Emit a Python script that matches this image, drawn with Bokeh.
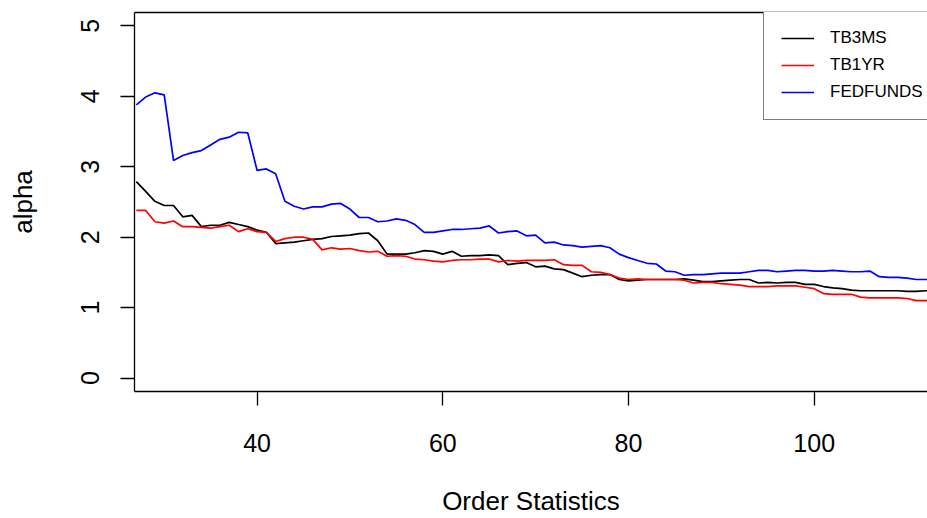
from bokeh.plotting import figure
from bokeh.models import (Range1d, LinearAxis, FixedTicker, Legend, LegendItem,
                          ColumnDataSource)
from bokeh.embed import file_html
from bokeh.resources import INLINE

# ---- data ----
order_stat = list(range(27, 114))

tb3ms = [2.79, 2.65, 2.51, 2.45, 2.45, 2.29, 2.31, 2.15, 2.17, 2.17,
         2.21, 2.18, 2.15, 2.10, 2.07, 1.91, 1.92, 1.93, 1.95, 1.97,
         1.98, 2.01, 2.02, 2.03, 2.05, 2.06, 1.95, 1.76, 1.76, 1.76,
         1.78, 1.81, 1.80, 1.76, 1.80, 1.73, 1.74, 1.74, 1.75, 1.74,
         1.61, 1.63, 1.64, 1.58, 1.59, 1.55, 1.54, 1.49, 1.44, 1.46,
         1.47, 1.47, 1.40, 1.38, 1.39, 1.40, 1.40, 1.40, 1.40, 1.41,
         1.39, 1.37, 1.37, 1.38, 1.39, 1.40, 1.40, 1.35, 1.36, 1.35,
         1.36, 1.36, 1.33, 1.33, 1.30, 1.28, 1.27, 1.25, 1.24, 1.24,
         1.24, 1.24, 1.24, 1.23, 1.23, 1.24, 1.24]

tb1yr = [2.38, 2.38, 2.22, 2.20, 2.23, 2.15, 2.15, 2.14, 2.13, 2.15,
         2.17, 2.08, 2.12, 2.08, 2.07, 1.94, 1.98, 2.00, 2.00, 1.97,
         1.82, 1.85, 1.83, 1.84, 1.81, 1.79, 1.80, 1.73, 1.74, 1.73,
         1.69, 1.68, 1.66, 1.65, 1.67, 1.68, 1.68, 1.69, 1.69, 1.65,
         1.67, 1.66, 1.67, 1.67, 1.67, 1.68, 1.61, 1.60, 1.60, 1.51,
         1.50, 1.47, 1.42, 1.40, 1.41, 1.40, 1.40, 1.40, 1.40, 1.39,
         1.35, 1.36, 1.36, 1.34, 1.33, 1.32, 1.30, 1.30, 1.30, 1.31,
         1.31, 1.31, 1.29, 1.27, 1.20, 1.19, 1.19, 1.19, 1.15, 1.14,
         1.14, 1.14, 1.14, 1.13, 1.10, 1.10, 1.10]

fedfunds = [3.88, 3.99, 4.05, 4.02, 3.09, 3.16, 3.20, 3.23, 3.31, 3.39,
            3.42, 3.49, 3.48, 2.95, 2.97, 2.90, 2.51, 2.44, 2.40, 2.43,
            2.43, 2.47, 2.48, 2.40, 2.28, 2.28, 2.22, 2.23, 2.26, 2.24,
            2.18, 2.07, 2.07, 2.09, 2.11, 2.11, 2.12, 2.13, 2.16, 2.06,
            2.08, 2.09, 2.02, 2.03, 1.92, 1.93, 1.89, 1.88, 1.86, 1.87,
            1.88, 1.85, 1.76, 1.71, 1.67, 1.63, 1.62, 1.52, 1.51, 1.46,
            1.47, 1.47, 1.48, 1.49, 1.49, 1.49, 1.51, 1.53, 1.53, 1.51,
            1.52, 1.53, 1.53, 1.52, 1.52, 1.53, 1.52, 1.51, 1.51, 1.52,
            1.44, 1.43, 1.43, 1.42, 1.40, 1.40, 1.40]

series_names = ["TB3MS", "TB1YR", "FEDFUNDS"]
y_ticks = [0, 1, 2, 3, 4, 5]
x_ticks = [40, 60, 80, 100]
x_title = "Order Statistics"
y_title = "alpha"

FONT = "Liberation Sans"

p = figure(width=927, height=518, output_backend="svg", toolbar_location=None,
           x_range=Range1d(26.8, 112.2), y_range=Range1d(-0.19, 5.19),
           x_axis_label=x_title, y_axis_label=y_title,
           min_border_left=134, min_border_top=12, min_border_bottom=127,
           min_border_right=0)
p.grid.visible = False
p.outline_line_color = None
p.background_fill_color = "white"
p.border_fill_color = "white"

src = ColumnDataSource(dict(x=order_stat, a=tb3ms, b=tb1yr, c=fedfunds))
r1 = p.line("x", "a", source=src, line_color="black", line_width=1.7)
r2 = p.line("x", "b", source=src, line_color="red", line_width=1.7)
r3 = p.line("x", "c", source=src, line_color="blue", line_width=1.7)

for ax in (p.xaxis[0], p.yaxis[0]):
    ax.axis_line_color = "black"
    ax.axis_line_width = 1.3
    ax.major_tick_line_color = "black"
    ax.major_tick_line_width = 1.3
    ax.major_tick_in = 0
    ax.major_tick_out = 14
    ax.minor_tick_line_color = None
    ax.major_label_text_font = FONT
    ax.major_label_text_font_size = "25px"
    ax.major_label_text_color = "black"
    ax.axis_label_text_font = FONT
    ax.axis_label_text_font_size = "26px"
    ax.axis_label_text_font_style = "normal"
    ax.axis_label_text_color = "black"
    ax.axis_label_text_line_height = 1.0
    ax.major_label_text_line_height = 1.0

p.xaxis[0].ticker = FixedTicker(ticks=x_ticks)
p.xaxis[0].major_label_standoff = 28
p.xaxis[0].axis_label_standoff = 31

p.yaxis[0].ticker = FixedTicker(ticks=y_ticks)
p.yaxis[0].major_label_orientation = "vertical"
p.yaxis[0].major_label_standoff = 21
p.yaxis[0].axis_label_standoff = 41

# top border of the box
top = LinearAxis(ticker=FixedTicker(ticks=[]), axis_line_color="black",
                 axis_line_width=1.3, major_tick_line_color=None,
                 minor_tick_line_color=None, major_label_standoff=0,
                 major_label_text_font_size="0px")
p.add_layout(top, "above")

legend = Legend(items=[LegendItem(label=series_names[0], renderers=[r1]),
                       LegendItem(label=series_names[1], renderers=[r2]),
                       LegendItem(label=series_names[2], renderers=[r3])],
                location=(629, 271), orientation="vertical",
                padding=17, spacing=7, margin=0,
                glyph_width=33, glyph_height=20, label_height=20,
                label_standoff=16,
                label_text_font=FONT, label_text_font_size="17px",
                label_text_color="black",
                border_line_color="black", border_line_width=1.3,
                background_fill_color="white", background_fill_alpha=1.0)
p.add_layout(legend, "center")

open("out.html", "w").write(file_html(p, INLINE))
